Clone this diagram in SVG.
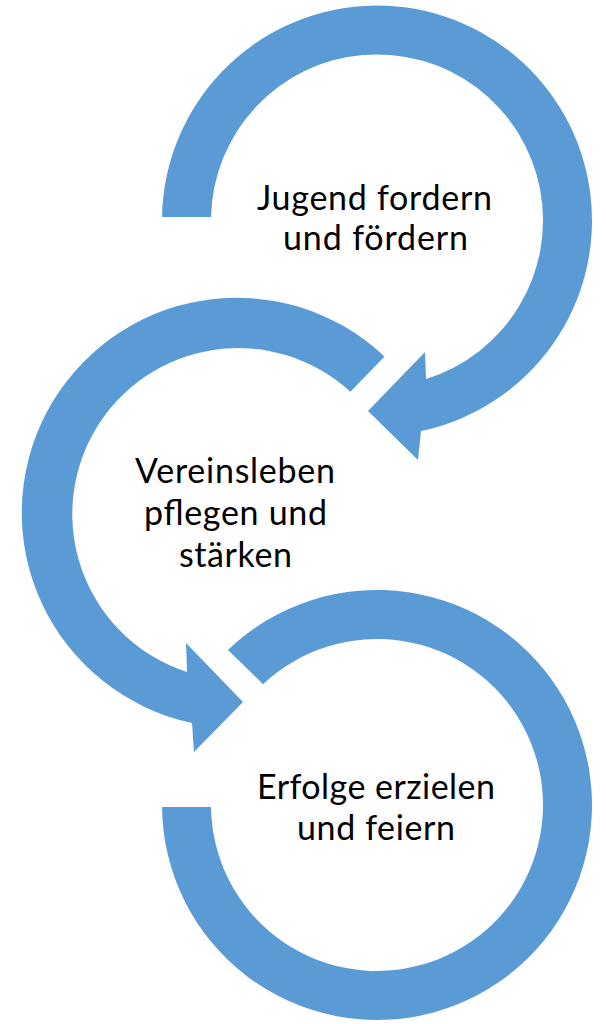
<svg xmlns="http://www.w3.org/2000/svg" width="606" height="1024" viewBox="0 0 606 1024">
<style>
.arrow{fill:#5B9BD5;stroke:none}
.lbl{font-family:Lato,"Liberation Sans",sans-serif;font-size:34px;fill:#000;text-anchor:middle}
</style>
<rect width="606" height="1024" fill="#fff"/>
<g id="connectors">
<path id="arrow1" class="arrow" d="M162.04,217 A215,215 0 1 1 421,431 L418,460 L368,411 L425,352 L426,379 A166,166 0 1 0 211.05,217 Z"/>
<path id="arrow2" class="arrow" d="M384.5,356.5 A215,215 0 1 0 192,723 L194,752 L243,702 L186,643 L187,672 A166,166 0 1 1 350.4,391.7 Z"/>
<path id="arrow3" class="arrow" d="M228,650 A215,215 0 1 1 162.01,807 L211.01,807 A166,166 0 1 0 263.1,684.2 Z"/>
</g>
<g id="node1">
<text class="lbl" x="374.5" y="210" textLength="235">Jugend fordern</text>
<text class="lbl" x="375.5" y="250" textLength="185">und fördern</text>
</g>
<g id="node2">
<text class="lbl" x="235" y="483" textLength="200">Vereinsleben</text>
<text class="lbl" x="235.5" y="525" textLength="183">pflegen und</text>
<text class="lbl" x="235.5" y="567" textLength="113">stärken</text>
</g>
<g id="node3">
<text class="lbl" x="376" y="799" textLength="238">Erfolge erzielen</text>
<text class="lbl" x="376" y="840" textLength="158">und feiern</text>
</g>
</svg>
